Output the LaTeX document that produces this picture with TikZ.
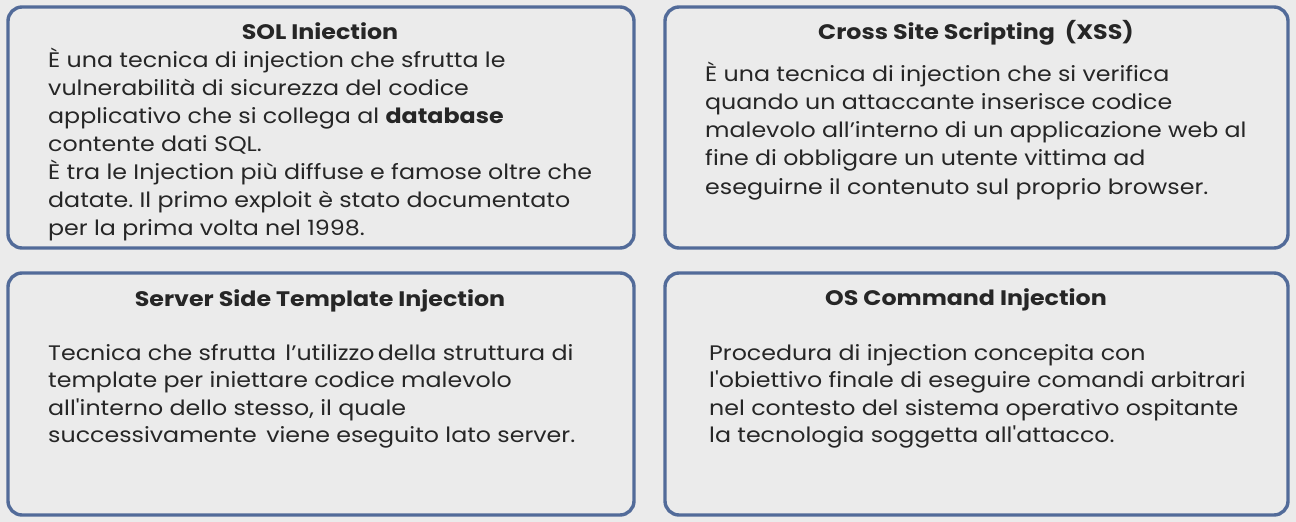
\documentclass[tikz,border=0pt]{standalone}
\usepackage{fontspec}
\newfontfamily\bodyfont{Poppins}[FakeStretch=1.13]
\frenchspacing
\definecolor{pagebg}{HTML}{EBEBEB}
\definecolor{frame}{HTML}{526B99}
\definecolor{ink}{HTML}{262626}
\tikzset{
  x=1pt, y=-1pt,
  panel/.style={draw=frame, line width=3.4pt, rounded corners=14pt, fill=pagebg},
  heading/.style={anchor=base, inner sep=0pt, text=ink, font=\bodyfont\fontsize{21}{28}\selectfont\bfseries},
  body/.style={anchor=base west, inner sep=0pt, text=ink, font=\bodyfont\fontsize{21}{28}\selectfont},
}
\begin{document}
\begin{tikzpicture}
  % page
  \fill[pagebg] (0,0) rectangle (1296,522);
  \useasboundingbox (0,0) rectangle (1296,522);

  % four panels
  \draw[panel] (8,7) rectangle (634,248);
  \draw[panel] (665,7) rectangle (1288,248);
  \draw[panel] (8,273) rectangle (634,515);
  \draw[panel] (665,273) rectangle (1288,515);

  % SQL injection
  \node[heading] (t1) at (320,39) {SOL Iniection};
  \foreach \txt [count=\i] in {
      È una tecnica di injection che sfrutta le,
      vulnerabilità di sicurezza del codice,
      applicativo che si collega al \textbf{database},
      contente dati SQL.,
      È tra le Injection più diffuse e famose oltre che,
      datate. Il primo exploit è stato documentato,
      per la prima volta nel 1998.}
    \node[body] (a\i) at (48,{67.5+28*(\i-1)}) {\txt};

  % Cross site scripting
  \node[heading] (t2) at (976,39) {Cross Site Scripting\hspace{5pt} (XSS)};
  \foreach \txt [count=\i] in {
      È una tecnica di injection che si verifica,
      quando un attaccante inserisce codice,
      malevolo all’interno di un applicazione web al,
      fine di obbligare un utente vittima ad,
      eseguirne il contenuto sul proprio browser.}
    \node[body] (b\i) at (705,{81+28.3*(\i-1)}) {\txt};

  % Server side template injection
  \node[heading] (t3) at (320,306) {Server Side Template Injection};
  \foreach \txt [count=\i] in {
      Tecnica che sfrutta\hspace{3pt} l’utilizzo\hspace{-3pt} della struttura di,
      template per iniettare codice malevolo,
      {all'interno dello stesso, il quale},
      successivamente\hspace{3pt} viene eseguito lato server.}
    \node[body] (c\i) at (48,{360+27.6*(\i-1)}) {\txt};

  % OS command injection
  \node[heading] (t4) at (966,305) {OS Command Injection};
  \foreach \txt [count=\i] in {
      Procedura di injection concepita con,
      l'obiettivo finale di eseguire comandi arbitrari,
      nel contesto del sistema operativo ospitante,
      la tecnologia soggetta all'attacco.}
    \node[body] (d\i) at (709,{360+27.6*(\i-1)}) {\txt};
\end{tikzpicture}
\end{document}
